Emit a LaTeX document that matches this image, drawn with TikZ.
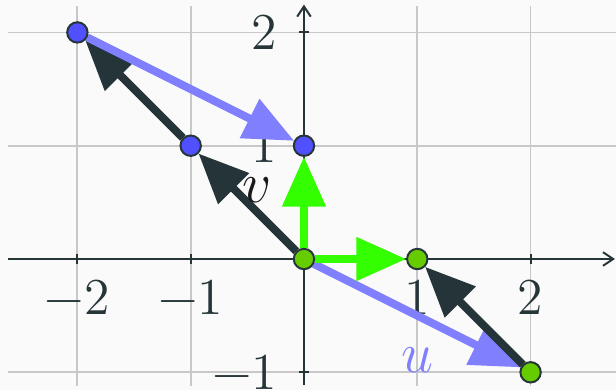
\documentclass[tikz,border=0pt]{standalone}
\usepackage{fontspec}
\usetikzlibrary{arrows.meta}
\definecolor{bgc}{HTML}{FAFAFA}
\definecolor{gridc}{HTML}{C8C8C8}
\definecolor{axc}{HTML}{253538}
\definecolor{vecblk}{HTML}{243438}
\definecolor{vecblu}{HTML}{8080FF}
\definecolor{vecgrn}{HTML}{33FF00}
\definecolor{dotblu}{HTML}{5050FF}
\definecolor{dotgrn}{HTML}{66CC00}
\definecolor{vlab}{HTML}{1A1A1A}
\begin{document}
\begin{tikzpicture}[
  vec/.style={line width=2pt, -{Triangle[length=0.44cm,width=0.37cm]}},
  anchorpt/.style={circle, minimum size=0.18cm, inner sep=0pt},
  pt/.style={circle, draw=axc, line width=0.5pt, minimum size=0.18cm, inner sep=0pt},
  gridline/.style={gridc, line width=0.45pt},
  axis/.style={axc, line width=0.5pt, -{Straight Barb[length=0.9mm,width=1.2mm]}},
  lab/.style={text=axc, font=\fontsize{13}{15}\selectfont, inner sep=0pt},
  vlabel/.style={font=\fontsize{14}{16}\selectfont, inner sep=0pt}
]
\useasboundingbox[fill=bgc] (-2.683,-1.156) rectangle (2.754,2.286);
% grid
\foreach \x in {-2,-1,1,2} \draw[gridline] (\x,-1.12) -- (\x,2.23);
\foreach \y in {-1,1,2} \draw[gridline] (-2.61,\y) -- (2.75,\y);
% axes
\coordinate (xs) at (-2.61,0);
\coordinate (xe) at (2.745,0);
\coordinate (ys) at (0,-1.11);
\coordinate (ye) at (0,2.245);
\draw[axis] (xs) -- (xe);
\draw[axis] (ys) -- (ye);
\foreach \x in {-2,-1,1,2} \draw[axc, line width=0.5pt] (\x,-0.04) -- (\x,0.04);
\foreach \y in {-1,1,2} \draw[axc, line width=0.5pt] (-0.04,\y) -- (0.04,\y);
% tick labels
\node[lab] (lxm2) at (-2,-0.335) {−2};
\node[lab] (lxm1) at (-1,-0.335) {−1};
\node[lab] (lx1) at (1,-0.335) {1};
\node[lab] (lx2) at (2,-0.335) {2};
\node[lab, anchor=east] (ly2) at (-0.23,2) {2};
\node[lab, anchor=east] (ly1) at (-0.23,1) {1};
\node[lab, anchor=east] (lym1) at (-0.23,-1) {−1};
% point anchors
\node[anchorpt] (A) at (-2,2) {};
\node[anchorpt] (B) at (-1,1) {};
\node[anchorpt] (C) at (0,1) {};
\node[anchorpt] (O) at (0,0) {};
\node[anchorpt] (E) at (1,0) {};
\node[anchorpt] (F) at (2,-1) {};
% vectors
\draw[vec, vecblu] (O) -- (F);
\draw[vec, vecblk] (O) -- (B);
\draw[vec, vecblk] (B) -- (A);
\draw[vec, vecblk] (F) -- (E);
\draw[vec, vecblu] (A) -- (C);
\draw[vec, vecgrn] (O) -- (C);
\draw[vec, vecgrn] (O) -- (E);
% labels
\node[vlabel, text=vlab] (vl) at (-0.41,0.61) {$v$};
\node[vlabel, text=vecblu] (ul) at (1.0,-0.89) {$u$};
% dots
\node[pt, fill=dotblu] (Ad) at (A) {};
\node[pt, fill=dotblu] (Bd) at (B) {};
\node[pt, fill=dotblu] (Cd) at (C) {};
\node[pt, fill=dotgrn] (Od) at (O) {};
\node[pt, fill=dotgrn] (Ed) at (E) {};
\node[pt, fill=dotgrn] (Fd) at (F) {};
\end{tikzpicture}
\end{document}
